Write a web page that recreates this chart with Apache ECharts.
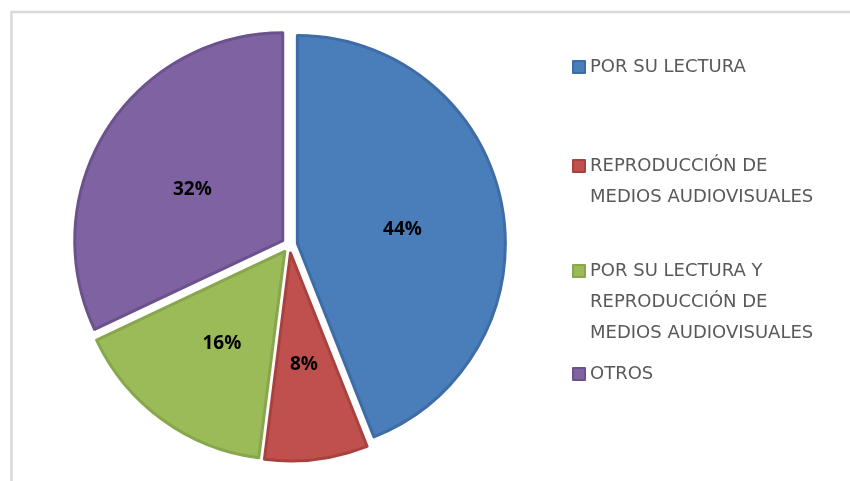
<!DOCTYPE html>
<html>
<head>
<meta charset="utf-8">
<script src="https://cdn.jsdelivr.net/npm/echarts@6/dist/echarts.min.js"></script>
<style>
  html, body { margin: 0; padding: 0; background: #ffffff; }
  #chart { width: 850px; height: 481px; }
</style>
</head>
<body>
<div id="chart"></div>
<script>
// Category names (line breaks as shown in the legend)
const categories = [
  'POR SU LECTURA',
  'REPRODUCCIÓN DE\nMEDIOS AUDIOVISUALES',
  'POR SU LECTURA Y\nREPRODUCCIÓN DE\nMEDIOS AUDIOVISUALES',
  'OTROS'
];
// Percent share of each category
const shares = [44, 8, 16, 32];
// Slice fill colours and their darker edge tones
const fillColors = ['#4a7ebb', '#c0504d', '#9bbb59', '#7f62a1'];
const edgeColors = ['#3d6ca6', '#a9423f', '#88a64b', '#6c528d'];
// Vertical position of each legend entry's first line
const legendLineCenters = [67, 166, 271, 374];

const LINE_H = 31;

const chart = echarts.init(document.getElementById('chart'), null, { renderer: 'canvas' });

// One legend block per entry, so each can sit at its own height.
// Empty leading lines keep the marker level with the first text line.
const legends = categories.map((name, i) => {
  const nLines = name.split('\n').length;
  const totalLines = 2 * nLines - 1;
  return {
    data: [name],
    orient: 'vertical',
    left: 572,
    top: legendLineCenters[i] - (totalLines * LINE_H) / 2,
    padding: 0,
    selectedMode: false,
    icon: 'rect',
    itemWidth: 12,
    itemHeight: 12,
    itemGap: 0,
    formatter: (n) => '\n'.repeat(nLines - 1) + n,
    textStyle: {
      color: '#595959',
      fontSize: 18,
      fontFamily: 'DejaVu Sans',
      lineHeight: LINE_H
    }
  };
});

chart.setOption({
  animation: false,
  backgroundColor: '#ffffff',
  graphic: [{
    type: 'rect',
    shape: { x: 11.5, y: 12, width: 900, height: 520 },
    style: { fill: 'none', stroke: '#d9d9d9', lineWidth: 2.5 },
    silent: true,
    z: 0
  }],
  legend: legends,
  series: [{
    type: 'pie',
    center: [289.5, 245],
    radius: 208,
    startAngle: 90,
    clockwise: true,
    selectedMode: 'multiple',
    selectedOffset: 8,
    avoidLabelOverlap: false,
    emphasis: { disabled: true },
    label: {
      show: true,
      position: 'inside',
      // a blank first line nudges the percentage slightly below the slice midpoint
      formatter: (p) => '\n' + p.value + '%',
      color: '#000000',
      fontSize: 19,
      lineHeight: 12,
      fontWeight: 'bold',
      fontFamily: 'Open Sans'
    },
    labelLine: { show: false },
    data: categories.map((name, i) => ({
      name: name,
      value: shares[i],
      selected: true,
      itemStyle: {
        color: fillColors[i],
        borderColor: edgeColors[i],
        borderWidth: 3
      }
    }))
  }]
});
</script>
</body>
</html>
